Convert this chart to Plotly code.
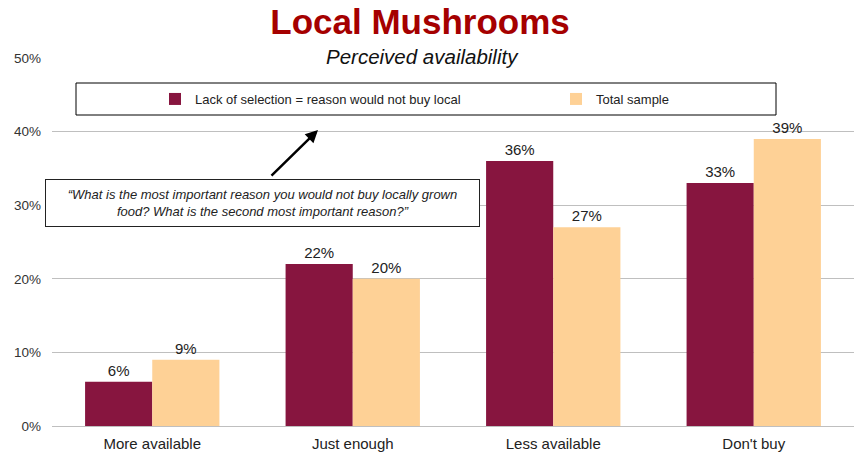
import plotly.graph_objects as go

categories = ["More available", "Just enough", "Less available", "Don't buy"]
series_names = ["Lack of selection = reason would not buy local", "Total sample"]
lack_of_selection = [6, 22, 36, 33]
total_sample = [9, 20, 27, 39]
y_ticks = [0, 10, 20, 30, 40, 50]
y_tick_labels = ["0%", "10%", "20%", "30%", "40%", "50%"]

title_text = "Local Mushrooms"
subtitle_text = "Perceived availability"
note_text = ("\u201cWhat is the most important reason you would not buy locally grown<br>"
             "food? What is the second most important reason?\u201d")

FONT = "Liberation Sans, Arial, sans-serif"
MAROON = "#87153F"
PEACH = "#FED196"

W, H = 854, 455
ML, MR, MT, MB = 52, 0, 58, 29
PW = W - ML - MR
PH = H - MT - MB


def px(x):
    return (x - ML) / PW


def py(y):
    return (H - MB - y) / PH


fig = go.Figure()
fig.add_trace(go.Bar(
    x=categories, y=lack_of_selection, name=series_names[0],
    marker=dict(color=MAROON, line=dict(width=0)),
    text=[f"{v}%" for v in lack_of_selection], textposition="outside",
    textfont=dict(family=FONT, size=15, color="#222"),
    cliponaxis=False, legend="legend", showlegend=True,
))
fig.add_trace(go.Bar(
    x=categories, y=total_sample, name=series_names[1],
    marker=dict(color=PEACH, line=dict(width=0)),
    text=[f"{v}%" for v in total_sample], textposition="outside",
    textfont=dict(family=FONT, size=15, color="#222"),
    cliponaxis=False, legend="legend2", showlegend=True,
))

legend_common = dict(orientation="h", xanchor="left", yanchor="middle",
                     font=dict(family=FONT, size=13, color="#222"),
                     bgcolor="rgba(0,0,0,0)", borderwidth=0, visible=True)

fig.update_layout(
    width=W, height=H,
    margin=dict(l=ML, r=MR, t=MT, b=MB),
    paper_bgcolor="white", plot_bgcolor="white",
    barmode="group", bargap=0.33, bargroupgap=0,
    showlegend=True,
    font=dict(family=FONT, size=13, color="#222"),
    title=dict(text="<b>" + title_text + "</b>", x=420 / W, xanchor="center",
               y=1 - 22 / H, yanchor="middle", yref="container",
               font=dict(family=FONT, size=35, color="#A50000")),
    legend=dict(x=px(155), y=py(99), **legend_common),
    legend2=dict(x=px(556), y=py(99), **legend_common),
    xaxis=dict(showgrid=False, showline=False, ticks="", ticklabelstandoff=7,
               tickfont=dict(family=FONT, size=15, color="#222")),
    yaxis=dict(range=[0, 50], tickvals=y_ticks, ticktext=y_tick_labels,
               showgrid=True, gridcolor="#BFBFBF", gridwidth=1,
               zeroline=True, zerolinecolor="#BFBFBF", zerolinewidth=1,
               showline=False, ticks="", ticklabelstandoff=10,
               tickfont=dict(family=FONT, size=13.5, color="#333")),
    shapes=[dict(type="rect", xref="paper", yref="paper",
                 x0=px(76), x1=px(776), y0=py(115), y1=py(83),
                 line=dict(color="black", width=1), fillcolor="rgba(0,0,0,0)")],
    annotations=[
        dict(text="<i>" + subtitle_text + "</i>", xref="paper", yref="paper",
             x=px(422), y=py(56), xanchor="center", yanchor="middle", showarrow=False,
             font=dict(family=FONT, size=20.5, color="#111")),
        dict(text="<i>" + note_text + "</i>", xref="paper", yref="paper",
             x=px(262), y=py(203), xanchor="center", yanchor="middle", showarrow=False,
             align="center", width=425, height=38, borderpad=4,
             bordercolor="#222", borderwidth=1, bgcolor="white",
             font=dict(family=FONT, size=13, color="#222")),
        dict(text="", xref="paper", yref="paper", x=px(318), y=py(130),
             ax=-48, ay=47, showarrow=True, arrowhead=2, arrowsize=1,
             arrowwidth=2.5, arrowcolor="black", standoff=0),
    ],
)

fig.write_html("out.html", config={"displayModeBar": False},
               post_script="document.body.style.margin='0';")
